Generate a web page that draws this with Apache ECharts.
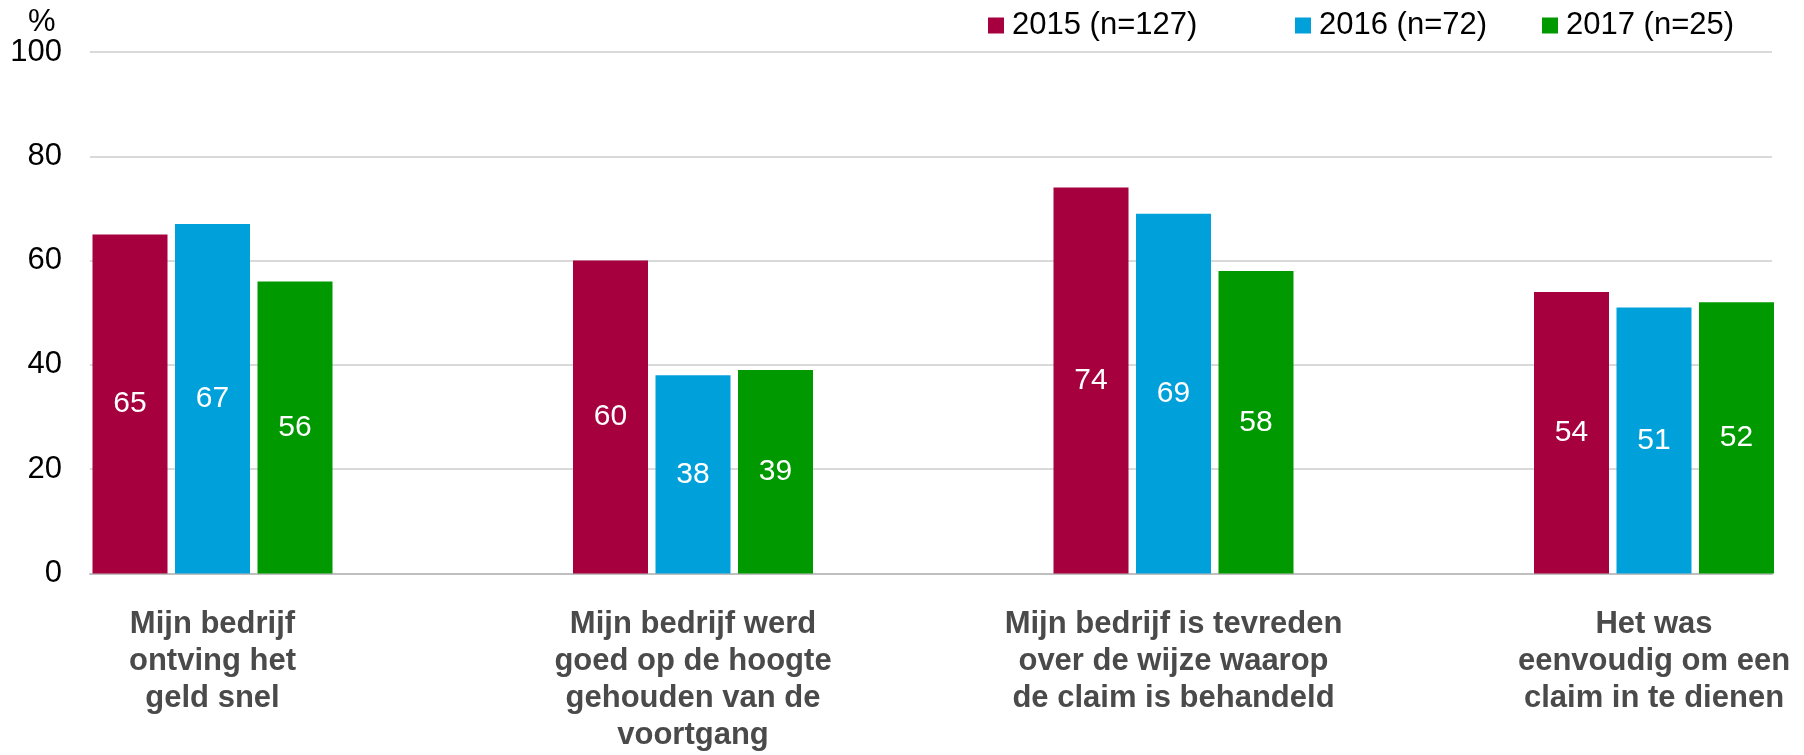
<!DOCTYPE html>
<html>
<head>
<meta charset="utf-8">
<script src="https://cdn.jsdelivr.net/npm/echarts@6/dist/echarts.min.js"></script>
<style>
  html, body { margin: 0; padding: 0; background: #fff; }
  #main { width: 1804px; height: 755px; }
</style>
</head>
<body>
<div id="main"></div>
<script>
// gegevens
var categories = [
    'Mijn bedrijf\nontving het\ngeld snel',
    'Mijn bedrijf werd\ngoed op de hoogte\ngehouden van de\nvoortgang',
    'Mijn bedrijf is tevreden\nover de wijze waarop\nde claim is behandeld',
    'Het was\neenvoudig om een\nclaim in te dienen'
];
var seriesNames = ['2015 (n=127)', '2016 (n=72)', '2017 (n=25)'];
var values2015 = [65, 60, 74, 54];
var values2016 = [67, 38, 69, 51];
var values2017 = [56, 39, 58, 52];
var yTicks = [0, 20, 40, 60, 80, 100];

var colors = ['#a6003f', '#00a0da', '#009a00'];
var font = 'Arial, "Liberation Sans", sans-serif';

var myChart = echarts.init(document.getElementById('main'));

function legendItem(name, left) {
    return {
        left: left,
        top: 5,
        itemWidth: 16,
        itemHeight: 16,
        itemGap: 0,
        icon: 'rect',
        data: [name],
        textStyle: { fontFamily: font, fontSize: 31, color: '#000', padding: [0, 0, 0, 3] }
    };
}

var option = {
    backgroundColor: '#fff',
    animation: false,
    legend: [
        legendItem(seriesNames[0], 983),
        legendItem(seriesNames[1], 1290),
        legendItem(seriesNames[2], 1537)
    ],
    graphic: [{
        type: 'text',
        left: 28,
        top: 7,
        style: { text: '%', fontFamily: font, fontSize: 31, fill: '#000' }
    }],
    grid: [
        // kader met rasterlijnen
        { left: 90, right: 32, top: 52, bottom: 181.5, outerBoundsMode: 'none' },
        // staven
        { left: -27.75, right: -90.25, top: 52, bottom: 181.5, outerBoundsMode: 'none' }
    ],
    xAxis: [
        {
            gridIndex: 0,
            type: 'category',
            data: categories,
            axisLine: { lineStyle: { color: '#bfbfbf', width: 2 } },
            axisTick: { show: false },
            axisLabel: { show: false }
        },
        {
            gridIndex: 1,
            type: 'category',
            data: categories,
            axisLine: { show: false },
            axisTick: { show: false },
            axisLabel: {
                margin: 32,
                interval: 0,
                fontFamily: font,
                fontSize: 31,
                fontWeight: 'bold',
                color: '#4a4a4a',
                lineHeight: 37,
                align: 'center'
            }
        }
    ],
    yAxis: [
        {
            gridIndex: 0,
            type: 'value',
            min: yTicks[0],
            max: yTicks[yTicks.length - 1],
            interval: 20,
            axisLine: { show: false },
            axisTick: { show: false },
            splitLine: { lineStyle: { color: '#d9d9d9', width: 2 } },
            axisLabel: {
                margin: 28,
                fontFamily: font,
                fontSize: 31,
                color: '#000'
            }
        },
        {
            gridIndex: 1,
            type: 'value',
            min: yTicks[0],
            max: yTicks[yTicks.length - 1],
            interval: 20,
            show: false
        }
    ],
    series: [values2015, values2016, values2017].map(function (vals, i) {
        return {
            name: seriesNames[i],
            type: 'bar',
            xAxisIndex: 1,
            yAxisIndex: 1,
            data: vals,
            barWidth: 75,
            barGap: '10%',
            itemStyle: { color: colors[i] },
            label: {
                show: true,
                position: 'inside',
                fontFamily: font,
                fontSize: 30,
                color: '#fff'
            }
        };
    })
};

myChart.setOption(option);

window.addEventListener('resize', function () {
    myChart.resize();
});
</script>
</body>
</html>
